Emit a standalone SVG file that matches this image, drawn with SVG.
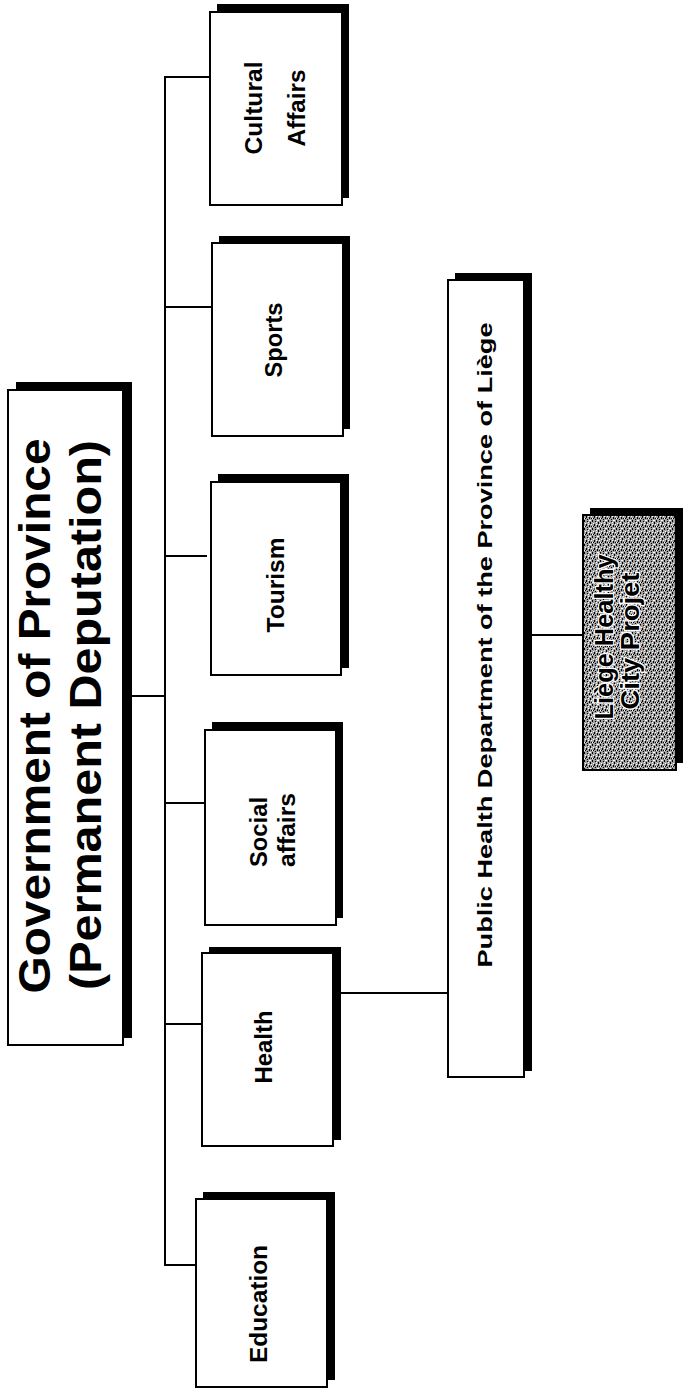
<svg xmlns="http://www.w3.org/2000/svg" width="683" height="1399" viewBox="0 0 683 1399">
<style>
.bg{fill:#fff}
.box{fill:#fff;stroke:#000;stroke-width:2}
.sh{fill:#000}
.lbl{font-family:"Liberation Sans",Arial,sans-serif;font-weight:bold;font-size:23px;fill:#000;text-anchor:middle}
.ttl{font-size:45px}
.ph{font-size:21px}
.lh{font-size:26px;stroke:#fff;stroke-width:2.5px;paint-order:stroke;stroke-linejoin:round}
.ln{stroke:#000;stroke-width:2;fill:none}
</style>
<defs>
<pattern id="stip" width="8" height="8" patternUnits="userSpaceOnUse">
<rect width="8" height="8" fill="#a0a0a0"/>
<rect x="0" y="0" width="1" height="2" fill="#000"/>
<rect x="3" y="1" width="1" height="1" fill="#000"/>
<rect x="5" y="0" width="2" height="1" fill="#fff"/>
<rect x="6" y="2" width="1" height="2" fill="#000"/>
<rect x="1" y="3" width="1" height="1" fill="#fff"/>
<rect x="2" y="4" width="1" height="2" fill="#000"/>
<rect x="4" y="4" width="1" height="1" fill="#fff"/>
<rect x="5" y="5" width="1" height="2" fill="#000"/>
<rect x="0" y="6" width="1" height="1" fill="#fff"/>
<rect x="7" y="6" width="1" height="1" fill="#000"/>
<rect x="3" y="7" width="1" height="1" fill="#000"/>
<rect x="7" y="4" width="1" height="1" fill="#fff"/>
<rect x="4" y="2" width="1" height="1" fill="#fff"/>
<rect x="1" y="6" width="1" height="1" fill="#000"/>
</pattern>
</defs>
<rect class="bg" width="683" height="1399"/>

<g id="connectors">
<line class="ln" x1="165" y1="76" x2="165" y2="1266"/>
<line class="ln" x1="115" y1="696" x2="165" y2="696"/>
<line class="ln" x1="164" y1="77" x2="210" y2="77"/>
<line class="ln" x1="164" y1="307" x2="212" y2="307"/>
<line class="ln" x1="164" y1="556" x2="207" y2="556"/>
<line class="ln" x1="164" y1="803" x2="205" y2="803"/>
<line class="ln" x1="164" y1="1024" x2="202" y2="1024"/>
<line class="ln" x1="164" y1="1265" x2="196" y2="1265"/>
<line class="ln" x1="341" y1="993" x2="448" y2="993"/>
<line class="ln" x1="532" y1="635" x2="583" y2="635"/>
</g>

<g id="government">
<rect class="sh" x="16" y="382" width="116" height="656"/>
<rect class="box" x="8" y="390" width="115" height="655"/>
<text class="lbl ttl" transform="translate(50,716) rotate(-90)" textLength="555" lengthAdjust="spacingAndGlyphs">Government of Province</text>
<text class="lbl ttl" transform="translate(101,715) rotate(-90)" textLength="550" lengthAdjust="spacingAndGlyphs">(Permanent Deputation)</text>
</g>

<g id="cultural">
<rect class="sh" x="217" y="4" width="132" height="194"/>
<rect class="box" x="210" y="12" width="132" height="193"/>
<text class="lbl" transform="translate(262,108) rotate(-90)" textLength="93" lengthAdjust="spacingAndGlyphs">Cultural</text>
<text class="lbl" transform="translate(305,108) rotate(-90)" textLength="77" lengthAdjust="spacingAndGlyphs">Affairs</text>
</g>

<g id="sports">
<rect class="sh" x="219" y="236" width="131" height="193"/>
<rect class="box" x="212" y="243" width="131" height="193"/>
<text class="lbl" transform="translate(282,340) rotate(-90)" textLength="75" lengthAdjust="spacingAndGlyphs">Sports</text>
</g>

<g id="tourism">
<rect class="sh" x="218" y="474" width="131" height="194"/>
<rect class="box" x="211" y="482" width="130" height="193"/>
<text class="lbl" transform="translate(284,585) rotate(-90)" textLength="95" lengthAdjust="spacingAndGlyphs">Tourism</text>
</g>

<g id="social">
<rect class="sh" x="212" y="722" width="131" height="196"/>
<rect class="box" x="205" y="730" width="131" height="195"/>
<text class="lbl" transform="translate(267,832) rotate(-90)" textLength="70" lengthAdjust="spacingAndGlyphs">Social</text>
<text class="lbl" transform="translate(295,830) rotate(-90)" textLength="74" lengthAdjust="spacingAndGlyphs">affairs</text>
</g>

<g id="health">
<rect class="sh" x="209" y="947" width="132" height="193"/>
<rect class="box" x="202" y="953" width="131" height="193"/>
<text class="lbl" transform="translate(272,1047) rotate(-90)" textLength="73" lengthAdjust="spacingAndGlyphs">Health</text>
</g>

<g id="education">
<rect class="sh" x="203" y="1192" width="132" height="188"/>
<rect class="box" x="196" y="1199" width="131" height="188"/>
<text class="lbl" transform="translate(267,1304) rotate(-90)" textLength="118" lengthAdjust="spacingAndGlyphs">Education</text>
</g>

<g id="public-health">
<rect class="sh" x="455" y="273" width="77" height="798"/>
<rect class="box" x="448" y="280" width="76" height="797"/>
<text class="lbl ph" transform="translate(492,645) rotate(-90)" textLength="645" lengthAdjust="spacingAndGlyphs">Public Health Department of the Province of Liège</text>
</g>

<g id="liege-project">
<rect class="sh" x="590" y="508" width="93" height="255"/>
<rect x="583" y="515" width="93" height="255" fill="url(#stip)" stroke="#000" stroke-width="2"/>
<text class="lbl lh" transform="translate(613,637) rotate(-90)" textLength="165" lengthAdjust="spacingAndGlyphs">Liège Healthy</text>
<text class="lbl lh" transform="translate(639,641) rotate(-90)" textLength="137" lengthAdjust="spacingAndGlyphs">City Projet</text>
</g>
</svg>
